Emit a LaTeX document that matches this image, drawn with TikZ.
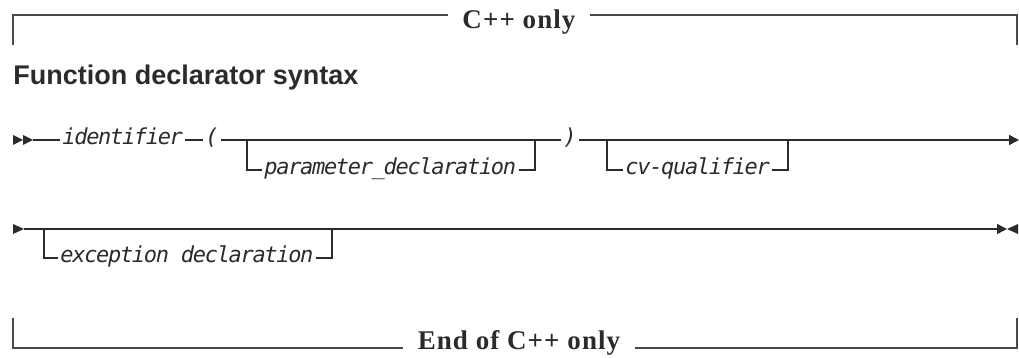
\documentclass[tikz,border=0pt]{standalone}
\usepackage{fontspec}
\setmainfont{Liberation Serif}
\setsansfont{Liberation Sans}
\setmonofont[LetterSpace=-6]{DejaVu Sans Mono}
\newfontfamily\headfont[LetterSpace=4]{Liberation Serif}
\usetikzlibrary{arrows.meta,calc}
\definecolor{RailInk}{HTML}{2B2B2B}
\definecolor{BoxInk}{HTML}{4A4A4A}

\begin{document}
\begin{tikzpicture}[x=0.5pt,y=-0.5pt,>={Triangle[length=5pt,width=5pt]}]
\tikzstyle{rail}=[draw=RailInk,line width=0.75pt]
\tikzstyle{box}=[draw=BoxInk,line width=0.9pt]
\tikzstyle{syn}=[inner sep=1pt,anchor=mid west,text=RailInk,font=\ttfamily\itshape\fontsize{11}{13}\selectfont]
\tikzstyle{head}=[inner xsep=7pt,inner ysep=0pt,anchor=base,text=RailInk,font=\headfont\bfseries\fontsize{13.5}{16}\selectfont]
\useasboundingbox (0,0) rectangle (1019,358);
% C++ only frame
\node[head] (cpp) at (519,29) {C++ only};
\node[head] (endcpp) at (519,350) {End of C++ only};
\coordinate (tl) at (13,15);
\coordinate (tr) at (1017,15);
\coordinate (bl) at (13,348);
\coordinate (br) at (1017,348);
\draw[box] (13,45) -- (tl) -- (tl -| cpp.west);
\draw[box] (cpp.east |- tr) -- (tr) -- (1017,45);
\draw[box] (13,318) -- (bl) -- (bl -| endcpp.west);
\draw[box] (endcpp.east |- br) -- (br) -- (1017,318);
\node[anchor=base west,inner sep=0pt,text=RailInk,font=\sffamily\bfseries\fontsize{13.5}{16}\selectfont] (title) at (13,85) {Function declarator syntax};
% first row
\node[syn] (ident) at (60,140) {identifier};
\node[syn] (lpar) at (203,140) {(};
\node[syn] (rpar) at (561,140) {)};
\node[syn] (parm) at (262,170) {parameter\_declaration};
\node[syn] (cvq) at (623,170) {cv-qualifier};
\coordinate (r1s) at (33,140);
\coordinate (r1e) at (1019,140);
\coordinate (pb1) at (247,140);
\coordinate (pb2) at (535,140);
\coordinate (cb1) at (607,140);
\coordinate (cb2) at (788,140);
\fill[RailInk] (13,135) -- (23,140) -- (13,145) -- cycle;
\fill[RailInk] (23,135) -- (r1s) -- (23,145) -- cycle;
\draw[rail] (r1s) -- (ident.mid west);
\draw[rail] (ident.mid east) -- (lpar.mid west);
\draw[rail] (lpar.mid east) -- (rpar.mid west);
\draw[rail,->] (rpar.mid east) -- (r1e);
\draw[rail] (pb1) |- (parm.mid west);
\draw[rail] (parm.mid east) -| (pb2);
\draw[rail] (cb1) |- (cvq.mid west);
\draw[rail] (cvq.mid east) -| (cb2);
% second row
\node[syn] (exc) at (58,258) {exception declaration};
\coordinate (r2s) at (24,229);
\coordinate (r2e) at (1007,229);
\coordinate (eb1) at (44,229);
\coordinate (eb2) at (332,229);
\fill[RailInk] (13,224) -- (r2s) -- (13,234) -- cycle;
\draw[rail,->] (r2s) -- (r2e);
\fill[RailInk] (1018,224) -- (r2e) -- (1018,234) -- cycle;
\draw[rail] (eb1) |- (exc.mid west);
\draw[rail] (exc.mid east) -| (eb2);
\end{tikzpicture}
\end{document}
